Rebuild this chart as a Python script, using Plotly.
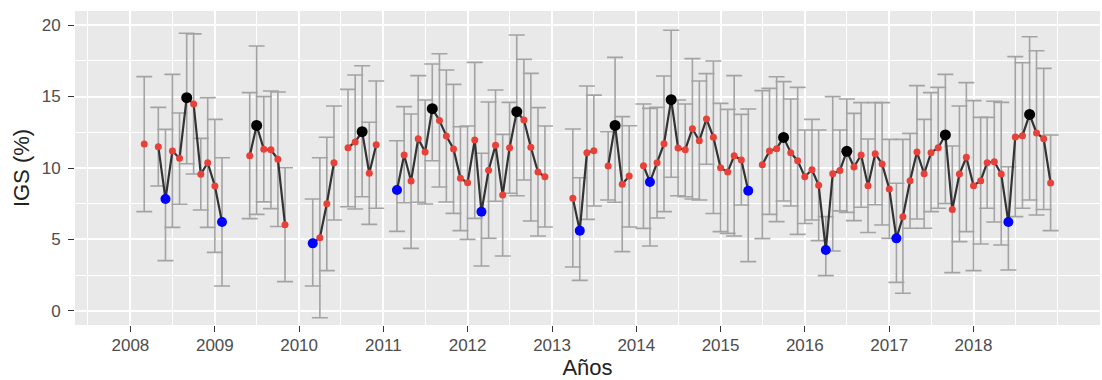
import plotly.graph_objects as go

# Monthly IGS series (mean, lower and upper limit of the error bar, point type)
fechas = [
    "2008-03", "2008-05", "2008-06", "2008-07", "2008-08", "2008-09", "2008-10", "2008-11", "2008-12",
    "2009-01", "2009-02", "2009-06", "2009-07", "2009-08", "2009-09", "2009-10", "2009-11",
    "2010-03", "2010-04", "2010-05", "2010-06", "2010-08", "2010-09", "2010-10", "2010-11", "2010-12",
    "2011-03", "2011-04", "2011-05", "2011-06", "2011-07", "2011-08", "2011-09", "2011-10", "2011-11", "2011-12",
    "2012-01", "2012-02", "2012-03", "2012-04", "2012-05", "2012-06", "2012-07", "2012-08", "2012-09", "2012-10",
    "2012-11", "2012-12",
    "2013-04", "2013-05", "2013-06", "2013-07", "2013-09", "2013-10", "2013-11", "2013-12",
    "2014-02", "2014-03", "2014-04", "2014-05", "2014-06", "2014-07", "2014-08", "2014-09", "2014-10", "2014-11",
    "2014-12",
    "2015-01", "2015-02", "2015-03", "2015-04", "2015-05", "2015-07", "2015-08", "2015-09", "2015-10", "2015-11",
    "2015-12",
    "2016-01", "2016-02", "2016-03", "2016-04", "2016-05", "2016-06", "2016-07", "2016-08", "2016-09", "2016-10",
    "2016-11", "2016-12",
    "2017-01", "2017-02", "2017-03", "2017-04", "2017-05", "2017-06", "2017-07", "2017-08", "2017-09", "2017-10",
    "2017-11", "2017-12",
    "2018-01", "2018-02", "2018-03", "2018-04", "2018-05", "2018-06", "2018-07", "2018-08", "2018-09", "2018-10",
    "2018-11", "2018-12",
]

igs = [
    11.68, 11.49, 7.83, 11.19, 10.68, 14.92, 14.48, 9.56, 10.37,
    8.74, 6.22, 10.86, 12.98, 11.31, 11.27, 10.61, 6.03,
    4.73, 5.13, 7.50, 10.37, 11.42, 11.82, 12.54, 9.63, 11.63,
    8.46, 10.91, 9.09, 12.05, 11.12, 14.15, 13.33, 12.24, 11.33, 9.28,
    8.97, 11.96, 6.94, 9.84, 11.59, 8.11, 11.42, 13.94, 13.36, 11.45,
    9.72, 9.39,
    7.88, 5.62, 11.07, 11.21, 10.14, 12.98, 8.86, 9.44,
    10.16, 9.02, 10.37, 11.70, 14.78, 11.40, 11.28, 12.75, 11.91, 13.43,
    12.15,
    10.02, 9.72, 10.86, 10.56, 8.41, 10.23, 11.19, 11.35, 12.14, 11.07,
    10.51,
    9.39, 9.88, 8.79, 4.27, 9.60, 9.83, 11.17, 10.07, 10.91, 8.76,
    11.00, 10.28,
    8.53, 5.08, 6.59, 9.11, 11.12, 9.60, 11.07, 11.42, 12.31, 7.10,
    9.58, 10.75,
    8.76, 9.11, 10.37, 10.44, 9.58, 6.22, 12.17, 12.26, 13.75, 12.45,
    12.05, 8.95,
]

igs_inf = [
    6.95, 8.74, 3.52, 5.85, 7.46, 10.30, 9.58, 7.06, 5.85,
    4.10, 1.75, 6.46, 6.76, 7.63, 7.16, 5.91, 2.05,
    1.75, -0.47, 2.82, 6.36, 7.29, 7.13, 7.99, 6.06, 7.18,
    5.57, 7.57, 4.38, 7.60, 7.48, 10.51, 8.67, 7.62, 6.83, 5.62,
    5.01, 6.48, 3.15, 5.08, 7.67, 3.85, 8.23, 8.06, 9.16, 6.29,
    5.24, 5.87,
    3.08, 2.14, 6.41, 7.34, 7.76, 7.60, 4.15, 5.87,
    5.78, 4.55, 6.50, 6.95, 9.35, 8.06, 7.99, 7.83, 7.76, 10.26,
    6.82,
    5.55, 5.43, 5.24, 7.41, 3.45, 5.06, 6.76, 6.25, 7.69, 7.34,
    5.36,
    6.12, 6.36, 4.92, 2.47, 4.20, 7.00, 6.90, 6.32, 7.25, 5.49,
    7.43, 6.01,
    5.08, 2.00, 1.24, 5.79, 6.43, 5.79, 6.95, 7.18, 7.52, 2.68,
    4.85, 5.55,
    2.82, 4.69, 7.18, 6.22, 4.62, 2.87, 6.60, 7.18, 7.76, 6.71,
    7.10, 5.62,
]

igs_sup = [
    16.39, 14.24, 12.70, 16.55, 13.85, 19.42, 19.38, 12.07, 14.92,
    13.40, 10.72, 15.27, 18.53, 14.99, 15.38, 15.31, 10.02,
    7.83, 10.72, 12.15, 14.34, 15.50, 16.50, 17.15, 13.20, 16.08,
    11.91, 14.29, 13.78, 16.46, 14.76, 17.27, 17.99, 16.85, 15.85, 12.89,
    12.94, 17.39, 11.03, 14.62, 15.45, 12.35, 14.59, 19.30, 17.60, 16.62,
    14.22, 12.94,
    12.73, 9.32, 15.73, 15.10, 12.54, 17.74, 13.59, 12.96,
    14.48, 14.17, 14.24, 16.43, 19.63, 14.76, 14.48, 17.65, 16.08, 16.60,
    17.48,
    14.52, 14.10, 16.46, 13.75, 14.13, 15.41, 15.57, 16.38, 16.04, 14.83,
    15.64,
    12.66, 13.40, 12.66, 6.60, 14.99, 12.66, 14.83, 13.82, 14.57, 12.03,
    14.57, 14.57,
    12.00, 8.93, 12.00, 12.42, 15.76, 13.40, 15.27, 15.64, 16.55, 11.54,
    14.34, 15.97,
    14.71, 13.54, 13.54, 14.67, 14.59, 10.09, 17.79, 17.36, 19.18, 18.20,
    16.97, 12.31,
]

# "max" / "min" mark the yearly extremes, "n" the remaining months
tipo = [
    "n", "n", "min", "n", "n", "max", "n", "n", "n",
    "n", "min", "n", "max", "n", "n", "n", "n",
    "min", "n", "n", "n", "n", "n", "max", "n", "n",
    "min", "n", "n", "n", "n", "max", "n", "n", "n", "n",
    "n", "n", "min", "n", "n", "n", "n", "max", "n", "n",
    "n", "n",
    "n", "min", "n", "n", "n", "max", "n", "n",
    "n", "min", "n", "n", "max", "n", "n", "n", "n", "n",
    "n",
    "n", "n", "n", "n", "min", "n", "n", "n", "max", "n",
    "n",
    "n", "n", "n", "min", "n", "n", "max", "n", "n", "n",
    "n", "n",
    "n", "min", "n", "n", "n", "n", "n", "n", "max", "n",
    "n", "n",
    "n", "n", "n", "n", "n", "min", "n", "n", "max", "n",
    "n", "n",
]

x_ticks = [str(a) for a in range(2008, 2019)]

fechas_x = [f + "-01" for f in fechas]

# Line broken wherever a month is missing
def mes_abs(f):
    a, m = f.split("-")
    return int(a) * 12 + int(m)

linea_x, linea_y = [], []
for i, f in enumerate(fechas):
    if i > 0 and mes_abs(f) - mes_abs(fechas[i - 1]) > 1:
        linea_x.append(None)
        linea_y.append(None)
    linea_x.append(fechas_x[i])
    linea_y.append(igs[i])

fig = go.Figure()

# Error bars (drawn first, underneath the line and points)
fig.add_trace(go.Scatter(
    x=fechas_x, y=igs, mode="markers",
    marker=dict(size=6, opacity=0),
    error_y=dict(
        type="data", symmetric=False,
        array=[s - v for s, v in zip(igs_sup, igs)],
        arrayminus=[v - i for v, i in zip(igs, igs_inf)],
        color="#A3A3A3", thickness=1.6, width=8,
    ),
    hoverinfo="skip", showlegend=False,
))

fig.add_trace(go.Scatter(
    x=linea_x, y=linea_y, mode="lines",
    line=dict(color="#333333", width=2.2),
    connectgaps=False, hoverinfo="skip", showlegend=False,
))

estilos = {
    "n": dict(color="#E8413A", size=7),
    "min": dict(color="#0000FF", size=10),
    "max": dict(color="#000000", size=11),
}
for t in ["n", "min", "max"]:
    idx = [i for i, k in enumerate(tipo) if k == t]
    fig.add_trace(go.Scatter(
        x=[fechas_x[i] for i in idx], y=[igs[i] for i in idx],
        mode="markers", marker=dict(**estilos[t], line=dict(width=0)),
        showlegend=False,
    ))

fuente = "Liberation Sans, Arial, Helvetica, sans-serif"

fig.update_layout(
    width=1102, height=380,
    margin=dict(l=75, r=2, t=11, b=55),
    paper_bgcolor="white",
    plot_bgcolor="#E9E9EA",
    font=dict(family=fuente, color="#4D4D4D"),
)

fig.update_xaxes(
    type="date",
    range=["2007-05-06", "2019-07-03"],
    tickvals=[a + "-01-01" for a in x_ticks],
    ticktext=x_ticks,
    tickfont=dict(size=17, color="#4D4D4D"),
    ticks="outside", ticklen=6, tickwidth=1.4, tickcolor="#333333",
    ticklabelstandoff=-1,
    showgrid=True, gridcolor="white", gridwidth=2,
    minor=dict(
        tickvals=[f"{a}-07-01" for a in range(2007, 2019)] + ["2019-01-01"],
        showgrid=True, gridcolor="white", gridwidth=0.9, ticks="",
    ),
    zeroline=False, showline=False,
    title=dict(text="Años", font=dict(size=22, color="#222222"), standoff=6),
)

fig.update_yaxes(
    range=[-0.98, 20.98],
    tickvals=[0, 5, 10, 15, 20],
    tickfont=dict(size=17, color="#4D4D4D"),
    ticks="outside", ticklen=6, tickwidth=1.4, tickcolor="#333333",
    ticklabelstandoff=4,
    showgrid=True, gridcolor="white", gridwidth=2,
    minor=dict(
        tickvals=[2.5, 7.5, 12.5, 17.5],
        showgrid=True, gridcolor="white", gridwidth=0.9, ticks="",
    ),
    zeroline=False, showline=False,
    title=dict(text="IGS (%)", font=dict(size=22, color="#222222"), standoff=5),
)

fig.write_html("out.html")
